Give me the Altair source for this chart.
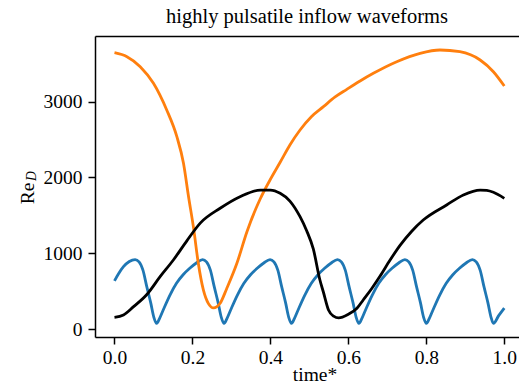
import altair as alt
import pandas as pd

# blue: periodic waveform
blue_t = [0.000, 0.010, 0.023, 0.038, 0.053, 0.063, 0.073, 0.083, 0.093, 0.101, 0.108,
          0.116, 0.125, 0.142, 0.159, 0.176, 0.193, 0.210, 0.226, 0.236, 0.246, 0.256, 0.266, 0.274, 0.281,
          0.289, 0.298, 0.315, 0.332, 0.349, 0.366, 0.383, 0.399, 0.409, 0.419, 0.429, 0.439, 0.447, 0.454,
          0.462, 0.471, 0.488, 0.505, 0.522, 0.539, 0.556, 0.572, 0.582, 0.592, 0.602, 0.612, 0.620, 0.627,
          0.635, 0.644, 0.661, 0.678, 0.695, 0.712, 0.729, 0.745, 0.755, 0.765, 0.775, 0.785, 0.793, 0.800,
          0.808, 0.817, 0.834, 0.851, 0.868, 0.885, 0.902, 0.918, 0.928, 0.938, 0.948, 0.958, 0.966, 0.972,
          0.986, 1.000]
blue_v = [640, 730, 826, 895, 920, 890, 780, 560, 350, 160, 80,
          150, 257, 450, 608, 720, 805, 875, 920, 890, 780, 560, 350, 160, 80,
          150, 257, 450, 608, 720, 805, 875, 920, 890, 780, 560, 350, 160, 80,
          150, 257, 450, 608, 720, 805, 875, 920, 890, 780, 560, 350, 160, 80,
          150, 257, 450, 608, 720, 805, 875, 920, 890, 780, 560, 350, 160, 80,
          150, 257, 450, 608, 720, 805, 875, 920, 890, 780, 560, 350, 160, 80,
          185, 282]

# black waveform
black_t = [0.000, 0.023, 0.049, 0.083, 0.117, 0.151, 0.186, 0.220, 0.271, 0.322, 0.374, 0.400,
           0.425, 0.450, 0.476, 0.493, 0.510, 0.527, 0.536, 0.549, 0.562, 0.575, 0.600, 0.622,
           0.638, 0.660, 0.681, 0.707, 0.733, 0.762, 0.792, 0.852, 0.895, 0.938, 0.955, 0.972, 1.000]
black_v = [160, 190, 300, 460, 695, 914, 1170, 1400, 1595, 1747, 1835, 1835,
           1792, 1690, 1484, 1300, 1060, 651, 490, 257, 175, 152, 200, 279,
           388, 540, 700, 914, 1110, 1290, 1440, 1638, 1770, 1835, 1830, 1805, 1726]

# orange waveform
orange_t = [0.000, 0.032, 0.066, 0.100, 0.134, 0.160, 0.177, 0.190, 0.203, 0.215, 0.228, 0.241,
            0.254, 0.271, 0.288, 0.314, 0.340, 0.374, 0.399, 0.425, 0.450, 0.476, 0.505, 0.536,
            0.566, 0.596, 0.630, 0.664, 0.724, 0.784, 0.835, 0.886, 0.938, 0.972, 1.000]
orange_v = [3642, 3590, 3458, 3239, 2888, 2537, 2187, 1747, 1330, 871, 520, 340,
            283, 345, 540, 871, 1290, 1720, 1967, 2200, 2428, 2625, 2800, 2932,
            3060, 3160, 3270, 3371, 3524, 3634, 3678, 3655, 3546, 3392, 3204]

x_ticks = [0.0, 0.2, 0.4, 0.6, 0.8, 1.0]
y_ticks = [0, 1000, 2000, 3000]

FONT = "Liberation Serif"

def frame(t, v):
    return pd.DataFrame({"t": t, "v": v})

xscale = alt.Scale(domain=[-0.05, 1.0377], nice=False, zero=False)
yscale = alt.Scale(domain=[-99, 3862], nice=False, zero=False)

x_bottom = alt.X("t:Q", scale=xscale,
                 axis=alt.Axis(values=x_ticks, format=".1f", title="time*",
                               titleBaseline="alphabetic", titleY=43, titleX=219.5,
                               labelBaseline="alphabetic", labelPadding=19))
x_top = alt.X("t:Q", scale=xscale,
              axis=alt.Axis(orient="top", labels=False, ticks=False, title=None, domain=True))
x_none = alt.X("t:Q", scale=xscale, axis=None)
yenc = alt.Y("v:Q", scale=yscale,
             axis=alt.Axis(values=y_ticks, format="d", title="Re",
                           titleAngle=270, titleX=-62, titleY=157, titleAlign="center",
                           titleBaseline="alphabetic", labelPadding=6))

def line(df, color, xenc):
    return alt.Chart(df).mark_line(color=color, strokeWidth=2.8, interpolate="monotone").encode(
        x=xenc, y=yenc)

blue = line(frame(blue_t, blue_v), "#1f77b4", x_none)
orange = line(frame(orange_t, orange_v), "#ff7f0e", x_top)
black = line(frame(black_t, black_v), "#000000", x_bottom)

sub = alt.Chart(pd.DataFrame({"s": ["D"]})).mark_text(
    text="D", font=FONT, fontSize=13.6, fontStyle="italic", angle=270,
    align="left", baseline="alphabetic", color="black"
).encode(x=alt.value(-59), y=alt.value(145))

chart = alt.layer(blue, orange, black, sub).resolve_axis(x="independent").properties(
    width=424, height=301,
    padding={"left": 95, "top": 36, "right": 0, "bottom": 53},
    autosize=alt.AutoSizeParams(type="none"),
    title=alt.TitleParams("highly pulsatile inflow waveforms", font=FONT, fontSize=20.5,
                          fontWeight="normal", baseline="alphabetic", offset=12.7, dy=20,
                          anchor="middle", color="black"),
).configure_axis(
    grid=False, domainColor="black", domainWidth=1.5, tickColor="black", tickWidth=1.5,
    tickSize=7, labelFont=FONT, labelFontSize=19.5, labelColor="black",
    titleFont=FONT, titleFontSize=19.5, titleColor="black", titleFontWeight="normal",
).configure_view(strokeWidth=0)

chart.save("out.html", embed_options={"renderer": "svg", "actions": False})
